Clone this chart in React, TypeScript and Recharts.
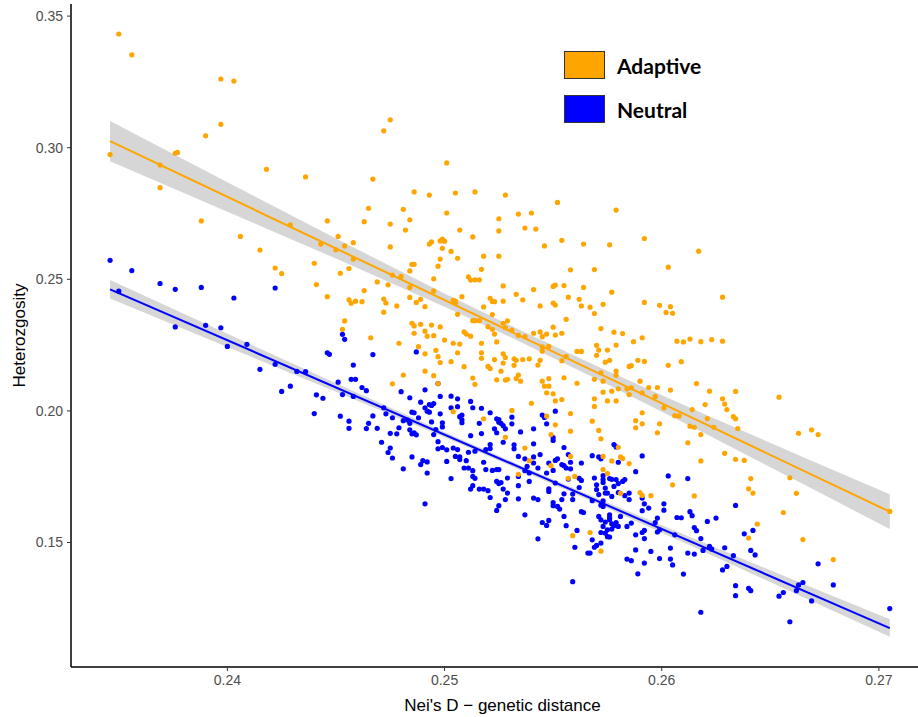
import { ComposedChart, Scatter, Line, Area, XAxis, YAxis, Legend } from 'recharts';

// axis ticks
const xTicks = [0.24, 0.25, 0.26, 0.27];
const yTicks = [0.15, 0.2, 0.25, 0.3, 0.35];

// points: [Nei's D, heterozygosity]
const adaptivePoints: [number, number][] = [
	[0.2350,0.3432],[0.2356,0.3353],[0.2397,0.3261],[0.2403,0.3253],[0.2397,0.3089],[0.2390,0.3045],[0.2346,0.2974],[0.2376,0.2979],[0.2377,0.2982],[0.2369,0.2934],
	[0.2369,0.2848],[0.2418,0.2918],[0.2436,0.2889],[0.2388,0.2722],[0.2406,0.2663],[0.2415,0.2611],[0.2422,0.2543],[0.2425,0.2522],[0.2429,0.2707],[0.2443,0.2634],
	[0.2446,0.2722],[0.2451,0.2663],[0.2450,0.2612],[0.2454,0.2627],[0.2458,0.2639],[0.2463,0.2719],[0.2465,0.2770],[0.2440,0.2561],[0.2441,0.2480],[0.2446,0.2434],
	[0.2452,0.2523],[0.2456,0.2541],[0.2458,0.2577],[0.2456,0.2422],[0.2457,0.2409],[0.2459,0.2417],[0.2462,0.2415],[0.2463,0.2457],[0.2454,0.2342],[0.2453,0.2310],
	[0.2475,0.2710],[0.2481,0.2766],[0.2484,0.2726],[0.2482,0.2687],[0.2475,0.2623],[0.2469,0.2490],[0.2474,0.2479],[0.2472,0.2425],[0.2473,0.2410],[0.2478,0.2399],
	[0.2472,0.2375],[0.2484,0.2532],[0.2485,0.2557],[0.2486,0.2557],[0.2476,0.2516],[0.2480,0.2511],[0.2484,0.2469],[0.2487,0.2412],[0.2491,0.2396],[0.2484,0.2431],
	[0.2489,0.2424],[0.2493,0.2634],[0.2494,0.2642],[0.2498,0.2646],[0.2499,0.2653],[0.2500,0.2645],[0.2501,0.2752],[0.2507,0.2687],[0.2513,0.2661],[0.2503,0.2606],
	[0.2506,0.2580],[0.2498,0.2577],[0.2499,0.2618],[0.2497,0.2550],[0.2495,0.2502],[0.2495,0.2456],[0.2504,0.2420],[0.2505,0.2417],[0.2505,0.2410],[0.2508,0.2434],
	[0.2511,0.2509],[0.2512,0.2497],[0.2514,0.2498],[0.2516,0.2498],[0.2517,0.2538],[0.2518,0.2588],[0.2525,0.2588],[0.2525,0.2684],[0.2525,0.2730],[0.2534,0.2748],
	[0.2537,0.2695],[0.2542,0.2691],[0.2546,0.2627],[0.2552,0.2792],[0.2554,0.2648],[0.2576,0.2631],[0.2592,0.2655],[0.2527,0.2475],[0.2533,0.2443],[0.2536,0.2422],
	[0.2521,0.2428],[0.2522,0.2416],[0.2523,0.2415],[0.2527,0.2417],[0.2518,0.2395],[0.2522,0.2366],[0.2513,0.2343],[0.2514,0.2343],[0.2516,0.2343],[0.2506,0.2367],
	[0.2541,0.2461],[0.2550,0.2473],[0.2551,0.2478],[0.2555,0.2476],[0.2564,0.2469],[0.2569,0.2537],[0.2558,0.2536],[0.2557,0.2432],[0.2562,0.2424],[0.2563,0.2399],
	[0.2567,0.2394],[0.2577,0.2451],[0.2573,0.2405],[0.2569,0.2370],[0.2556,0.2348],[0.2551,0.2402],[0.2550,0.2410],[0.2544,0.2399],
	[0.2485,0.2333],[0.2486,0.2323],[0.2489,0.2329],[0.2494,0.2326],[0.2498,0.2319],[0.2491,0.2303],[0.2492,0.2284],[0.2486,0.2295],[0.2495,0.2286],[0.2500,0.2269],
	[0.2504,0.2257],[0.2507,0.2254],[0.2509,0.2300],[0.2510,0.2292],[0.2512,0.2284],[0.2517,0.2257],[0.2520,0.2320],[0.2522,0.2310],[0.2523,0.2292],[0.2524,0.2262],
	[0.2527,0.2333],[0.2528,0.2316],[0.2529,0.2342],[0.2531,0.2307],[0.2534,0.2287],[0.2537,0.2282],[0.2541,0.2295],[0.2544,0.2300],[0.2545,0.2282],[0.2547,0.2292],
	[0.2550,0.2318],[0.2551,0.2288],[0.2554,0.2295],[0.2545,0.2243],[0.2548,0.2245],[0.2545,0.2227],[0.2556,0.2206],[0.2554,0.2191],[0.2561,0.2226],[0.2563,0.2226],
	[0.2570,0.2249],[0.2571,0.2231],[0.2570,0.2211],[0.2575,0.2231],[0.2578,0.2299],[0.2582,0.2294],[0.2579,0.2250],[0.2587,0.2263],[0.2591,0.2278],[0.2574,0.2185],
	[0.2592,0.2412],[0.2589,0.2192],[0.2586,0.2172],[0.2579,0.2151],[0.2572,0.2145],[0.2573,0.2113],[0.2569,0.2120],[0.2580,0.2084],[0.2586,0.2088],[0.2585,0.2062],
	[0.2577,0.2075],[0.2590,0.2113],[0.2591,0.2069],[0.2573,0.2071],[0.2569,0.2046],[0.2575,0.2038],[0.2579,0.2038],[0.2569,0.2017],[0.2568,0.1961],[0.2588,0.1963],
	[0.2588,0.1936],[0.2591,0.1993],[0.2571,0.1926],[0.2572,0.1894],[0.2580,0.1862],[0.2558,0.1923],[0.2558,0.1990],[0.2554,0.2043],[0.2551,0.2038],[0.2550,0.2065],
	[0.2548,0.2094],[0.2546,0.2094],[0.2547,0.2069],[0.2545,0.2113],[0.2548,0.2123],[0.2555,0.2126],[0.2561,0.2105],[0.2540,0.2029],[0.2531,0.2002],[0.2535,0.2113],
	[0.2533,0.2123],[0.2534,0.2136],[0.2532,0.2173],[0.2529,0.2120],[0.2528,0.2117],[0.2524,0.2118],[0.2526,0.2151],[0.2521,0.2161],[0.2520,0.2169],[0.2523,0.2195],
	[0.2527,0.2217],[0.2528,0.2203],[0.2527,0.2182],[0.2532,0.2198],[0.2533,0.2192],[0.2536,0.2195],[0.2539,0.2198],[0.2543,0.2174],[0.2544,0.2192],[0.2517,0.2200],
	[0.2517,0.2221],[0.2513,0.2125],[0.2514,0.2101],[0.2509,0.2168],[0.2506,0.2221],[0.2503,0.2187],[0.2497,0.2206],[0.2498,0.2184],[0.2496,0.2230],[0.2491,0.2217],
	[0.2488,0.2244],[0.2491,0.2151],[0.2495,0.2134],[0.2481,0.2136],[0.2476,0.2103],[0.2497,0.2104],[0.2479,0.2257],[0.2466,0.2278],
	[0.2504,0.1997],[0.2518,0.1970],[0.2528,0.1900],[0.2547,0.1980],[0.2537,0.1859],[0.2549,0.1910],
	[0.2599,0.2401],[0.2604,0.2396],[0.2602,0.2374],[0.2605,0.2371],[0.2572,0.2313],[0.2576,0.2192],[0.2585,0.2169],[0.2592,0.2188],[0.2607,0.2265],[0.2610,0.2262],
	[0.2613,0.2273],[0.2618,0.2263],[0.2623,0.2271],[0.2628,0.2265],[0.2603,0.2173],[0.2609,0.2187],[0.2579,0.2135],[0.2594,0.2089],[0.2598,0.2089],[0.2604,0.2079],
	[0.2616,0.2104],[0.2622,0.2075],[0.2634,0.2074],[0.2628,0.2046],[0.2629,0.2026],[0.2630,0.2005],[0.2633,0.1978],[0.2634,0.1970],[0.2635,0.1933],[0.2620,0.2024],
	[0.2614,0.2005],[0.2621,0.1971],[0.2624,0.1938],[0.2654,0.2052],[0.2584,0.2084],[0.2597,0.2055],[0.2601,0.2012],[0.2606,0.1982],[0.2608,0.1981],[0.2591,0.1951],
	[0.2599,0.1951],[0.2598,0.1917],[0.2612,0.1879],[0.2613,0.1942],[0.2615,0.1938],[0.2618,0.1910],[0.2663,0.1915],[0.2669,0.1928],[0.2672,0.1910],[0.2629,0.1839],
	[0.2634,0.1816],[0.2638,0.1812],[0.2618,0.1810],[0.2581,0.1825],[0.2585,0.1800],[0.2582,0.1819],[0.2577,0.1810],[0.2573,0.1827],[0.2659,0.1746],[0.2641,0.1743],
	[0.2605,0.1719],[0.2640,0.1704],[0.2642,0.1688],[0.2615,0.1677],[0.2662,0.1687],[0.2590,0.1690],[0.2591,0.1679],[0.2595,0.1678],[0.2581,0.1687],[0.2705,0.1618],
	[0.2656,0.1614],[0.2644,0.1570],[0.2640,0.1517],[0.2665,0.1511],[0.2679,0.1435],[0.2572,0.1467],
	[0.2534,0.1759],[0.2539,0.1811],[0.2549,0.1792],[0.2551,0.1947],[0.2557,0.1744],[0.2560,0.1751],[0.2559,0.1526],[0.2558,0.1827],[0.2573,0.1777],[0.2575,0.1762],
	[0.2567,0.1538],
	[0.2467,0.2881],[0.2472,0.3064],[0.2475,0.3106],[0.2501,0.2942],[0.2514,0.2832],[0.2486,0.2832],[0.2493,0.2820],[0.2505,0.2828],[0.2528,0.2820],[0.2540,0.2752],
	[0.2579,0.2763],[0.2564,0.2634],[0.2617,0.2607],[0.2603,0.2546],[0.2628,0.2432],
];

const neutralPoints: [number, number][] = [
	[0.2346,0.2572],[0.2356,0.2533],[0.2369,0.2484],[0.2376,0.2462],[0.2388,0.2469],[0.2403,0.2429],[0.2422,0.2467],[0.2350,0.2455],[0.2376,0.2319],[0.2390,0.2325],
	[0.2397,0.2316],[0.2400,0.2245],[0.2409,0.2253],[0.2415,0.2158],[0.2422,0.2177],[0.2432,0.2150],
	[0.2453,0.2291],[0.2454,0.2272],[0.2446,0.2221],[0.2447,0.2215],[0.2467,0.2214],[0.2487,0.2224],[0.2458,0.2174],[0.2457,0.2120],[0.2459,0.2120],[0.2451,0.2109],
	[0.2462,0.2089],[0.2464,0.2077],[0.2441,0.2061],[0.2444,0.2048],[0.2453,0.2062],[0.2458,0.2055],[0.2440,0.1990],[0.2452,0.1980],[0.2456,0.1961],[0.2456,0.1934],
	[0.2436,0.2149],[0.2480,0.2073],[0.2484,0.2050],[0.2489,0.2033],[0.2491,0.2080],[0.2497,0.2104],[0.2498,0.2055],[0.2503,0.2056],[0.2506,0.2046],[0.2512,0.2036],
	[0.2513,0.2012],[0.2517,0.2010],[0.2521,0.1993],[0.2525,0.1967],[0.2526,0.1953],[0.2527,0.1944],[0.2531,0.1976],[0.2531,0.1951],[0.2535,0.1920],[0.2541,0.1932],
	[0.2545,0.1984],[0.2546,0.1975],[0.2551,0.1999],[0.2550,0.1899],[0.2550,0.1888],[0.2555,0.1861],[0.2547,0.1951],[0.2541,0.1875],[0.2578,0.1872],[0.2579,0.1863],
	[0.2425,0.2074],[0.2429,0.2094],[0.2464,0.1933],[0.2465,0.1953],[0.2467,0.1981],[0.2469,0.1934],[0.2471,0.1881],[0.2475,0.1915],[0.2478,0.1913],[0.2474,0.1842],
	[0.2476,0.1821],[0.2475,0.1859],[0.2472,0.2012],[0.2473,0.1989],[0.2476,0.1974],[0.2479,0.1936],[0.2481,0.1963],[0.2483,0.1965],[0.2484,0.1953],[0.2485,0.1995],
	[0.2486,0.1993],[0.2488,0.1974],[0.2484,0.1928],[0.2486,0.1917],[0.2487,0.1909],[0.2485,0.1913],[0.2491,0.2012],[0.2493,0.2024],[0.2494,0.2021],[0.2495,0.2028],
	[0.2492,0.1999],[0.2493,0.1995],[0.2503,0.2012],[0.2506,0.2016],[0.2498,0.1989],[0.2494,0.1958],[0.2496,0.1929],[0.2495,0.1910],[0.2499,0.1955],[0.2499,0.1939],
	[0.2485,0.1825],[0.2489,0.1796],[0.2490,0.1811],[0.2492,0.1806],[0.2492,0.1764],[0.2481,0.1780],[0.2497,0.1883],[0.2497,0.1856],[0.2499,0.1861],[0.2501,0.1852],
	[0.2501,0.1808],[0.2503,0.1743],[0.2491,0.1647],[0.2507,0.1978],[0.2508,0.1984],[0.2508,0.1955],[0.2508,0.1966],[0.2516,0.1953],[0.2517,0.1914],[0.2512,0.1906],
	[0.2504,0.1859],[0.2506,0.1853],[0.2505,0.1827],[0.2507,0.1825],[0.2507,0.1815],[0.2510,0.1811],[0.2511,0.1843],[0.2514,0.1847],[0.2509,0.1783],[0.2511,0.1783],
	[0.2513,0.1773],[0.2513,0.1751],[0.2514,0.1744],[0.2513,0.1716],[0.2512,0.1703],[0.2516,0.1703],[0.2518,0.1703],[0.2520,0.1697],[0.2521,0.1671],[0.2524,0.1970],
	[0.2525,0.1957],[0.2523,0.1932],[0.2524,0.1917],[0.2528,0.1932],[0.2527,0.1881],[0.2521,0.1872],[0.2521,0.1857],[0.2519,0.1853],[0.2518,0.1805],[0.2522,0.1774],
	[0.2524,0.1777],[0.2525,0.1777],[0.2519,0.1777],[0.2524,0.1732],[0.2526,0.1728],[0.2525,0.1724],[0.2527,0.1703],[0.2529,0.1688],[0.2528,0.1663],[0.2529,0.1745],
	[0.2534,0.1716],[0.2534,0.1751],[0.2525,0.1640],[0.2524,0.1622],[0.2532,0.1871],[0.2532,0.1856],[0.2534,0.1827],[0.2537,0.1818],[0.2538,0.1789],[0.2541,0.1825],
	[0.2541,0.1802],[0.2537,0.1773],[0.2539,0.1764],[0.2539,0.1732],[0.2537,0.1605],[0.2544,0.1834],[0.2543,0.1783],[0.2547,0.1764],[0.2548,0.1802],[0.2551,0.1812],
	[0.2552,0.1818],[0.2550,0.1774],[0.2548,0.1704],[0.2548,0.1694],[0.2551,0.1726],[0.2541,0.1669],[0.2543,0.1663],[0.2534,0.1666],[0.2557,0.1834],[0.2554,0.1796],
	[0.2555,0.1792],[0.2556,0.1783],[0.2558,0.1780],[0.2558,0.1805],[0.2557,0.1741],[0.2559,0.1684],[0.2555,0.1685],[0.2554,0.1663],[0.2552,0.1637],[0.2550,0.1640],
	[0.2550,0.1652],[0.2553,0.1627],[0.2555,0.1599],[0.2556,0.1564],[0.2561,0.1546],[0.2560,0.1482],[0.2563,0.1617],[0.2559,0.1663],[0.2545,0.1576],[0.2548,0.1584],
	[0.2547,0.1565],[0.2543,0.1514],[0.2562,0.1744],[0.2563,0.1736],[0.2562,0.1709],[0.2563,0.1802],[0.2568,0.1830],[0.2572,0.1818],[0.2569,0.1745],[0.2570,0.1719],
	[0.2570,0.1701],[0.2573,0.1739],[0.2574,0.1688],[0.2577,0.1740],[0.2577,0.1675],[0.2579,0.1739],[0.2580,0.1805],[0.2580,0.1724],[0.2564,0.1614],[0.2571,0.1599],
	[0.2572,0.1586],[0.2576,0.1605],[0.2576,0.1595],[0.2574,0.1578],[0.2572,0.1538],[0.2575,0.1522],[0.2578,0.1564],[0.2580,0.1561],[0.2568,0.1510],[0.2570,0.1489],
	[0.2569,0.1482],[0.2567,0.1460],[0.2566,0.1460],[0.2559,0.1351],[0.2568,0.1659],[0.2572,0.1642],
	[0.2591,0.1829],[0.2588,0.1769],[0.2603,0.1753],[0.2612,0.1743],[0.2571,0.1825],[0.2573,0.1754],[0.2576,0.1743],[0.2573,0.1728],[0.2574,0.1707],[0.2575,0.1688],
	[0.2571,0.1682],[0.2573,0.1658],[0.2578,0.1713],[0.2582,0.1732],[0.2583,0.1739],[0.2580,0.1690],[0.2583,0.1678],[0.2585,0.1688],[0.2585,0.1663],[0.2591,0.1669],
	[0.2592,0.1647],[0.2591,0.1621],[0.2594,0.1631],[0.2601,0.1647],[0.2601,0.1623],[0.2573,0.1637],[0.2576,0.1586],[0.2577,0.1571],[0.2579,0.1576],[0.2573,0.1561],
	[0.2575,0.1548],[0.2574,0.1536],[0.2576,0.1521],[0.2577,0.1551],[0.2581,0.1599],[0.2584,0.1561],[0.2586,0.1574],[0.2572,0.1498],[0.2588,0.1529],[0.2591,0.1538],
	[0.2592,0.1546],[0.2592,0.1515],[0.2598,0.1593],[0.2597,0.1576],[0.2599,0.1548],[0.2598,0.1540],[0.2607,0.1595],[0.2609,0.1594],[0.2606,0.1529],[0.2613,0.1617],
	[0.2614,0.1602],[0.2615,0.1557],[0.2616,0.1545],[0.2618,0.1515],[0.2621,0.1580],[0.2625,0.1593],[0.2634,0.1641],[0.2638,0.1533],[0.2642,0.1546],[0.2643,0.1453],
	[0.2641,0.1470],[0.2588,0.1472],[0.2595,0.1466],[0.2604,0.1479],[0.2604,0.1437],[0.2605,0.1415],[0.2612,0.1460],[0.2615,0.1456],[0.2619,0.1470],[0.2622,0.1485],
	[0.2623,0.1475],[0.2629,0.1480],[0.2633,0.1450],[0.2610,0.1380],[0.2599,0.1439],[0.2592,0.1422],[0.2589,0.1381],[0.2584,0.1437],[0.2586,0.1431],[0.2628,0.1396],
	[0.2630,0.1409],[0.2634,0.1336],[0.2634,0.1298],[0.2640,0.1326],[0.2641,0.1317],[0.2618,0.1235],[0.2654,0.1296],[0.2656,0.1310],[0.2663,0.1339],[0.2665,0.1348],
	[0.2662,0.1317],[0.2669,0.1278],[0.2672,0.1419],[0.2679,0.1339],[0.2659,0.1199],[0.2705,0.1249],
];

// fitted lines (end points) and their 95% bands
const fitX = [0.2346, 0.2705];
const adaptiveFit = [0.3025, 0.1617];
const neutralFit = [0.2462, 0.1175];

const bandX = [0.2346, 0.24, 0.245, 0.25, 0.2535, 0.257, 0.262, 0.267, 0.2705];
const adaptiveLow = [0.2949, 0.2757, 0.2579, 0.2396, 0.2262, 0.2121, 0.1914, 0.1701, 0.1551];
const adaptiveHigh = [0.3101, 0.2869, 0.2655, 0.2446, 0.2306, 0.2171, 0.1986, 0.1807, 0.1683];
const neutralLow = [0.2427, 0.2243, 0.2073, 0.19, 0.1775, 0.1649, 0.1463, 0.1274, 0.1142];
const neutralHigh = [0.2497, 0.2293, 0.2105, 0.192, 0.1793, 0.1669, 0.1497, 0.1326, 0.1208];

const legendItems = [
	{ name: 'Adaptive', color: '#FFA500' },
	{ name: 'Neutral', color: '#0000FF' },
];

const toPts = (arr: [number, number][]) => arr.map(([x, y]) => ({ x, y }));

export default function App() {
	const bandRows = bandX.map((x, i) => ({
		x,
		adaptive: [adaptiveLow[i], adaptiveHigh[i]],
		neutral: [neutralLow[i], neutralHigh[i]],
	}));
	const adaptiveLine = fitX.map((x, i) => ({ x, y: adaptiveFit[i] }));
	const neutralLine = fitX.map((x, i) => ({ x, y: neutralFit[i] }));

	const dot = (color: string) => (p: any) => <circle cx={p.cx} cy={p.cy} r={2.6} fill={color} />;

	return (
		<div style={styles.page}>
			<ComposedChart width={918} height={717} data={bandRows} margin={{ top: 4, right: 0, left: 0, bottom: 0 }}>
				<XAxis
					type="number"
					dataKey="x"
					domain={[0.2328, 0.2718]}
					ticks={xTicks}
					allowDataOverflow
					tickFormatter={(v: number) => v.toFixed(2)}
					height={50}
					tickSize={4}
					tickMargin={4}
					stroke="#000"
					strokeWidth={1.5}
					tick={{ fill: '#4d4d4d', fontSize: 14 }}
					tickLine={{ stroke: '#333', strokeWidth: 1 }}
					label={{ value: "Nei's D \u2212 genetic distance", position: 'insideBottom', offset: 6, dx: 8, fill: '#000', fontSize: 17 }}
				/>
				<YAxis
					type="number"
					dataKey="y"
					domain={[0.1027, 0.3546]}
					ticks={yTicks}
					allowDataOverflow
					tickFormatter={(v: number) => v.toFixed(2)}
					width={71}
					tickSize={4}
					tickMargin={4}
					stroke="#000"
					strokeWidth={1.5}
					tick={{ fill: '#4d4d4d', fontSize: 14 }}
					tickLine={{ stroke: '#333', strokeWidth: 1 }}
					label={{ value: 'Heterozgosity', angle: -90, position: 'center', dx: -17, fill: '#000', fontSize: 17 }}
				/>
				<Scatter data={toPts(neutralPoints)} dataKey="y" shape={dot('#0000FF')} isAnimationActive={false} />
				<Scatter data={toPts(adaptivePoints)} dataKey="y" shape={dot('#FFA500')} isAnimationActive={false} />
				<Area type="linear" dataKey="adaptive" stroke="none" fill="#999999" fillOpacity={0.4} isAnimationActive={false} />
				<Area type="linear" dataKey="neutral" stroke="none" fill="#999999" fillOpacity={0.4} isAnimationActive={false} />
				<Line data={adaptiveLine} dataKey="y" type="linear" stroke="#FFA500" strokeWidth={2} dot={false} isAnimationActive={false} />
				<Line data={neutralLine} dataKey="y" type="linear" stroke="#0000FF" strokeWidth={2} dot={false} isAnimationActive={false} />
				<Legend
					layout="vertical"
					align="center"
					verticalAlign="middle"
					wrapperStyle={{ left: 564, top: 51, width: 200 }}
					content={() => (
						<div>
							{legendItems.map((it) => (
								<div key={it.name} style={styles.legendRow}>
									<span style={{ ...styles.legendBox, background: it.color }} />
									<span style={styles.legendText}>{it.name}</span>
								</div>
							))}
						</div>
					)}
				/>
			</ComposedChart>
		</div>
	);
}

const styles: Record<string, React.CSSProperties> = {
	page: {
		position: 'absolute',
		left: 0,
		top: 0,
		width: 918,
		height: 717,
		background: '#fff',
		fontFamily: '"Liberation Sans", Arial, Helvetica, sans-serif',
	},
	legendRow: {
		display: 'flex',
		alignItems: 'center',
		height: 28,
		marginBottom: 16,
	},
	legendBox: {
		display: 'inline-block',
		width: 39,
		height: 26,
		border: '1px solid #333',
		marginRight: 12,
	},
	legendText: {
		fontFamily: 'Lato, "Open Sans", sans-serif',
		fontWeight: 700,
		fontSize: 21,
		color: '#000',
	},
};
